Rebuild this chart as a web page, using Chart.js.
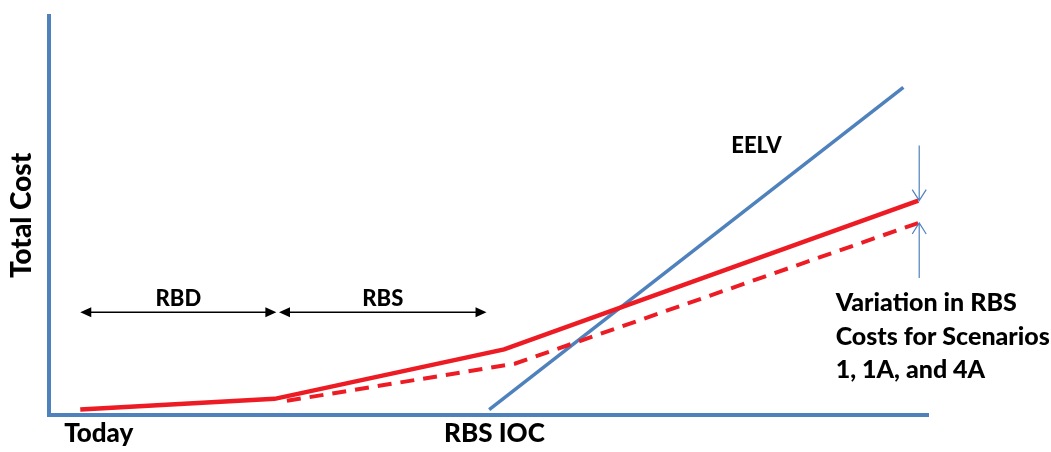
<!DOCTYPE html>
<html>
<head>
<meta charset="utf-8">
<script src="https://cdn.jsdelivr.net/npm/chart.js@4"></script>
<style>
  html, body { margin: 0; padding: 0; background: #fff; }
  #wrap { width: 1051px; height: 452px; }
</style>
</head>
<body>
<div id="wrap"><canvas id="myChart"></canvas></div>
<script>
// data (arbitrary units, 0-100 on both axes)
const rbsX = [3.6, 25.7, 51.8, 98.9];
const rbsY = [1.3, 4.0, 16.4, 53.7];
const rbsAltX = [27.1, 53.0, 98.9];
const rbsAltY = [3.5, 12.8, 48.1];
const eelvX = [50.1, 97.2];
const eelvY = [1.3, 82.1];

const tickValues = [5.7, 50.7];
const tickLabels = ['Today', 'RBS IOC'];

// period spans (start, end) and their labels
const spanLabels = ['RBD', 'RBS'];
const spanStart = [3.6, 26.2];
const spanEnd = [25.9, 49.8];
const spanY = 25.7;

const noteLines = ['Variation in RBS', 'Costs for Scenarios', '1, 1A, and 4A'];

const RED = 'rgb(237, 28, 36)';
const BLUE = 'rgb(79, 129, 189)';
const FONT = 'Lato, "DejaVu Sans", sans-serif';

function pts(xs, ys) {
  let out = [];
  for (let i = 0; i < xs.length; i++) out.push({x: xs[i], y: ys[i]});
  return out;
}

// Plugin for the arrows and text labels
const annotations = {
  id: 'annotations',
  afterDatasetsDraw(chart) {
    const { ctx, scales: { x, y } } = chart;
    ctx.save();
    ctx.fillStyle = '#000';
    ctx.textAlign = 'center';
    ctx.textBaseline = 'middle';

    // black double arrows
    ctx.font = '900 22px ' + FONT;
    const ay = y.getPixelForValue(spanY);
    for (let i = 0; i < spanLabels.length; i++) {
      const x0 = x.getPixelForValue(spanStart[i]);
      const x1 = x.getPixelForValue(spanEnd[i]);
      ctx.strokeStyle = '#000';
      ctx.lineWidth = 1.5;
      ctx.beginPath();
      ctx.moveTo(x0 + 6, ay);
      ctx.lineTo(x1 - 6, ay);
      ctx.stroke();
      ctx.beginPath();
      ctx.moveTo(x0, ay); ctx.lineTo(x0 + 11, ay - 5); ctx.lineTo(x0 + 11, ay + 5); ctx.closePath();
      ctx.moveTo(x1, ay); ctx.lineTo(x1 - 11, ay - 5); ctx.lineTo(x1 - 11, ay + 5); ctx.closePath();
      ctx.fill();
      ctx.fillText(spanLabels[i], (x0 + x1) / 2, y.getPixelForValue(29.0));
    }

    ctx.font = '900 22px ' + FONT;
    ctx.fillText('EELV', x.getPixelForValue(80.5), y.getPixelForValue(67.5));

    // blue range arrows
    const bx = x.getPixelForValue(99.0);
    const topA = y.getPixelForValue(67.5), topB = y.getPixelForValue(53.7);
    const botA = y.getPixelForValue(34.3), botB = y.getPixelForValue(48.1);
    ctx.strokeStyle = BLUE;
    ctx.lineWidth = 1.2;
    ctx.beginPath();
    ctx.moveTo(bx, topA); ctx.lineTo(bx, topB);
    ctx.moveTo(bx - 7, topB - 11); ctx.lineTo(bx, topB); ctx.lineTo(bx + 7, topB - 11);
    ctx.moveTo(bx, botA); ctx.lineTo(bx, botB);
    ctx.moveTo(bx - 7, botB + 11); ctx.lineTo(bx, botB); ctx.lineTo(bx + 7, botB + 11);
    ctx.stroke();

    ctx.textAlign = 'left';
    ctx.font = '900 25px ' + FONT;
    const noteY = [28.0, 19.6, 11.3];
    for (let i = 0; i < noteLines.length; i++) {
      ctx.fillText(noteLines[i], x.getPixelForValue(89.5), y.getPixelForValue(noteY[i]));
    }
    ctx.restore();
  }
};

const datas = {
  datasets: [
    {
      label: 'RBS',
      data: pts(rbsX, rbsY),
      borderColor: RED,
      borderWidth: 4.5,
      pointRadius: 0,
      fill: false
    },
    {
      label: 'RBS (alt scenarios)',
      data: pts(rbsAltX, rbsAltY),
      borderColor: RED,
      borderWidth: 4,
      borderDash: [14, 9],
      pointRadius: 0,
      fill: false
    },
    {
      label: 'EELV',
      data: pts(eelvX, eelvY),
      borderColor: BLUE,
      borderWidth: 3.5,
      pointRadius: 0,
      fill: false
    }
  ]
};

const config = {
  type: 'line',
  data: datas,
  options: {
    responsive: true,
    maintainAspectRatio: false,
    animation: false,
    layout: { padding: { left: 5, right: 123, top: 16, bottom: 0 } },
    plugins: { legend: { display: false }, tooltip: { enabled: false } },
    scales: {
      x: {
        type: 'linear',
        min: 0,
        max: 100,
        afterBuildTicks(scale) {
          scale.ticks = tickValues.map(v => ({ value: v }));
        },
        ticks: {
          autoSkip: false,
          maxRotation: 0,
          padding: 3,
          color: '#000',
          font: { family: FONT, size: 26, weight: '900' },
          callback: (v, i) => tickLabels[i]
        },
        grid: { display: false, drawTicks: false },
        border: { display: true, color: BLUE, width: 4 }
      },
      y: {
        type: 'linear',
        min: 0,
        max: 100,
        ticks: { display: false },
        grid: { display: false, drawTicks: false },
        border: { display: true, color: BLUE, width: 4 },
        title: {
          display: true,
          text: 'Total Cost',
          color: '#000',
          font: { family: FONT, size: 28, weight: '900' },
          padding: { top: 0, bottom: 10 }
        }
      }
    }
  },
  plugins: [annotations]
};

const myChart = new Chart(document.getElementById('myChart'), config);
</script>
</body>
</html>
